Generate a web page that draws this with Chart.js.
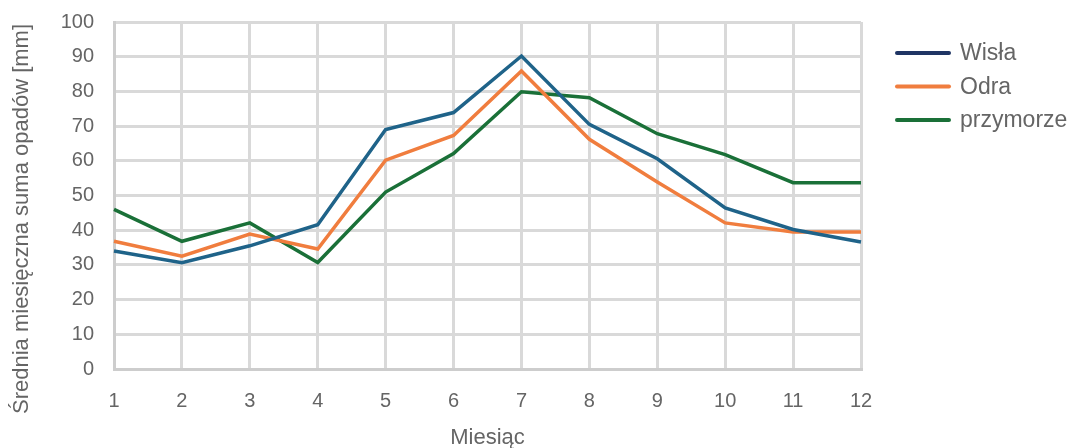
<!DOCTYPE html>
<html lang="pl">
<head>
    <meta charset="UTF-8">
    <title>Opady</title>
    <script src="https://cdn.jsdelivr.net/npm/chart.js"></script>
    <style>
        html, body {
            margin: 0;
            padding: 0;
            background: #fff;
        }
        #chart-container {
            position: relative;
            width: 1078px;
            height: 448px;
        }
    </style>
</head>
<body>
    <div id="chart-container">
        <canvas id="rain-chart"></canvas>
    </div>

    <script>
        // months on the x axis
        const months = ['1', '2', '3', '4', '5', '6', '7', '8', '9', '10', '11', '12'];

        // average monthly precipitation [mm]
        const wisla = [34, 30.6, 35.5, 41.6, 69, 73.9, 90.2, 70.5, 60.6, 46.4, 40.2, 36.6];
        const odra = [36.8, 32.5, 38.9, 34.6, 60.2, 67.3, 85.9, 66.2, 53.9, 42.1, 39.5, 39.5];
        const przymorze = [46, 36.8, 42.1, 30.7, 51, 62.1, 79.9, 78.2, 67.8, 61.8, 53.7, 53.7];

        const seriesNames = ['Wisła', 'Odra', 'przymorze'];
        const yTitle = 'Średnia miesięczna suma opadów [mm]';
        const lineColors = ['#1f6389', '#f07d3e', '#1a7038'];
        const legendColors = ['#1f3564', '#f07d3e', '#1a7038'];

        const textColor = '#656565';
        const gridColor = '#d9d9d9';
        const fontFamily = '"Liberation Sans", Arial, sans-serif';

        const datasets = [wisla, odra, przymorze].map((values, i) => ({
            label: seriesNames[i],
            data: values,
            borderColor: lineColors[i],
            backgroundColor: lineColors[i],
            borderWidth: 3.5,
            pointRadius: 0,
            pointHoverRadius: 0,
            tension: 0,
            fill: false,
        }));

        // legend + y title drawn by hand so they sit where Excel puts them
        const sideLegend = {
            id: 'sideLegend',
            afterDraw(chart) {
                const ctx = chart.ctx;
                const startX = 895;
                const startY = 53;
                const rowStep = 33.5;
                ctx.save();
                ctx.font = '23px ' + fontFamily;
                ctx.textBaseline = 'middle';
                ctx.textAlign = 'left';
                chart.data.datasets.forEach((ds, i) => {
                    const y = startY + i * rowStep;
                    ctx.strokeStyle = legendColors[i];
                    ctx.lineWidth = 4;
                    ctx.lineCap = 'round';
                    ctx.beginPath();
                    ctx.moveTo(startX + 2, y);
                    ctx.lineTo(startX + 54, y);
                    ctx.stroke();
                    ctx.fillStyle = textColor;
                    ctx.fillText(ds.label, startX + 65, y + 1);
                });

                // rotated axis title, centred on the whole chart height
                ctx.translate(22, 219);
                ctx.rotate(-Math.PI / 2);
                ctx.textAlign = 'center';
                ctx.font = '22px ' + fontFamily;
                ctx.fillText(yTitle, 0, 0);
                ctx.restore();
            }
        };

        const ctx = document.getElementById('rain-chart').getContext('2d');
        new Chart(ctx, {
            type: 'line',
            data: {
                labels: months,
                datasets: datasets,
            },
            options: {
                responsive: true,
                maintainAspectRatio: false,
                animation: false,
                layout: {
                    padding: { top: 22, right: 217, left: 0, bottom: 0 }
                },
                plugins: {
                    legend: { display: false },
                    tooltip: { enabled: false },
                },
                scales: {
                    x: {
                        offset: false,
                        grid: {
                            color: gridColor,
                            lineWidth: 3,
                            drawTicks: false,
                            offset: false,
                        },
                        border: { color: '#cdcdcd', width: 3 },
                        ticks: {
                            color: textColor,
                            font: { family: fontFamily, size: 20 },
                            padding: 20,
                            maxRotation: 0,
                        },
                        title: {
                            display: true,
                            text: 'Miesiąc',
                            color: textColor,
                            font: { family: fontFamily, size: 22, lineHeight: 0.9 },
                            padding: { top: 0, bottom: 0 },
                        },
                        afterFit: (scale) => { scale.height = 79; },
                    },
                    y: {
                        min: 0,
                        max: 100,
                        grid: {
                            color: gridColor,
                            lineWidth: 3,
                            drawTicks: false,
                        },
                        border: { color: '#cdcdcd', width: 3 },
                        ticks: {
                            stepSize: 10,
                            color: textColor,
                            font: { family: fontFamily, size: 20 },
                            padding: 20,
                        },
                        afterFit: (scale) => {
                            scale.width = 114;
                            scale.paddingTop = 0;
                        },
                    },
                },
            },
            plugins: [sideLegend],
        });
    </script>
</body>
</html>
